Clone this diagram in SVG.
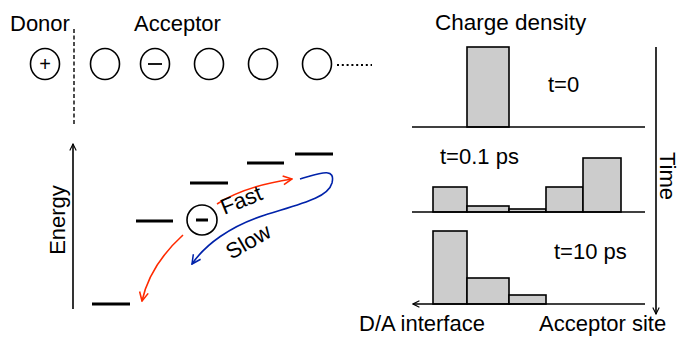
<svg xmlns="http://www.w3.org/2000/svg" width="681" height="339" viewBox="0 0 681 339">
<defs>
<style>
text{font-family:"Liberation Sans",Arial,sans-serif;font-size:22px;fill:#000}
.site{fill:none;stroke:#000;stroke-width:1.6}
.lvl{stroke:#000;stroke-width:3}
.bar{fill:#cccccc;stroke:#000;stroke-width:1.6}
.base{stroke:#000;stroke-width:1.6;fill:none}
</style>
<marker id="ah" viewBox="0 0 10 10" refX="9" refY="5" markerWidth="8" markerHeight="8" orient="auto" markerUnits="userSpaceOnUse"><path d="M1,1 L9,5 L1,9" fill="none" stroke="#000" stroke-width="1.4"/></marker>
<marker id="ahr" viewBox="0 0 10 10" refX="9" refY="5" markerWidth="11" markerHeight="11" orient="auto" markerUnits="userSpaceOnUse"><path d="M1,1 L9,5 L1,9" fill="none" stroke="#ff2a00" stroke-width="1.4"/></marker>
<marker id="ahb" viewBox="0 0 10 10" refX="9" refY="5" markerWidth="11" markerHeight="11" orient="auto" markerUnits="userSpaceOnUse"><path d="M1,1 L9,5 L1,9" fill="none" stroke="#0022aa" stroke-width="1.4"/></marker>
</defs>
<rect width="681" height="339" fill="#fff"/>

<g id="labels-top">
<text x="10" y="31">Donor</text>
<text x="134" y="31">Acceptor</text>
</g>
<line x1="74" y1="29" x2="74" y2="124" stroke="#000" stroke-width="1.4" stroke-dasharray="4,2.5"/>

<g id="site-donor"><ellipse class="site" cx="45" cy="64" rx="14.5" ry="15.5"/><text x="45" y="71" text-anchor="middle" style="font-size:20px">+</text></g>
<g id="site-1"><ellipse class="site" cx="105" cy="64" rx="14.5" ry="15.5"/></g>
<g id="site-2"><ellipse class="site" cx="155" cy="64" rx="14.5" ry="15.5"/><line x1="148" y1="64" x2="162" y2="64" stroke="#000" stroke-width="1.8"/></g>
<g id="site-3"><ellipse class="site" cx="209" cy="64" rx="14.5" ry="15.5"/></g>
<g id="site-4"><ellipse class="site" cx="263" cy="64" rx="14.5" ry="15.5"/></g>
<g id="site-5"><ellipse class="site" cx="317" cy="64" rx="14.5" ry="15.5"/></g>
<line x1="337" y1="65" x2="372" y2="65" stroke="#000" stroke-width="2.2" stroke-dasharray="2,2.8"/>

<g id="energy-axis">
<line x1="73" y1="309" x2="73" y2="144" stroke="#000" stroke-width="1.6" marker-end="url(#ah)"/>
<text transform="translate(65,220) rotate(-90)" text-anchor="middle">Energy</text>
</g>
<g id="levels">
<line class="lvl" x1="92" y1="304" x2="130" y2="304"/>
<line class="lvl" x1="136" y1="221" x2="173" y2="221"/>
<line class="lvl" x1="190" y1="183" x2="228" y2="183"/>
<line class="lvl" x1="247" y1="163" x2="284" y2="163"/>
<line class="lvl" x1="295" y1="154" x2="333" y2="154"/>
</g>
<g id="electron"><circle class="site" cx="202" cy="220" r="15"/><line x1="196" y1="220" x2="208" y2="220" stroke="#000" stroke-width="3"/></g>

<g id="connectors">
<path d="M217,204 Q245,186 292,179" fill="none" stroke="#ff2a00" stroke-width="1.6" marker-end="url(#ahr)"/>
<path d="M183,235 Q150,265 142,301" fill="none" stroke="#ff2a00" stroke-width="1.6" marker-end="url(#ahr)"/>
<path d="M300,179 C318,174 336,166 332,183 C328,198 300,204 265,215 C230,226 205,245 192,264" fill="none" stroke="#0022aa" stroke-width="1.6" marker-end="url(#ahb)"/>
</g>
<text transform="translate(244,207) rotate(-22)" text-anchor="middle">Fast</text>
<text transform="translate(252,248) rotate(-30)" text-anchor="middle">Slow</text>

<text x="435" y="30" style="font-size:22.5px">Charge density</text>

<g id="panel-t0">
<rect class="bar" x="467" y="47" width="42" height="80"/>
<line class="base" x1="412" y1="127" x2="645" y2="127"/>
<text x="548" y="92">t=0</text>
</g>
<g id="panel-t01">
<rect class="bar" x="433" y="187" width="34" height="25"/>
<rect class="bar" x="467" y="206" width="42" height="6"/>
<rect class="bar" x="509" y="209" width="37" height="3"/>
<rect class="bar" x="546" y="187" width="37" height="25"/>
<rect class="bar" x="583" y="158" width="38" height="54"/>
<line class="base" x1="412" y1="212" x2="645" y2="212"/>
<text x="440" y="164">t=0.1 ps</text>
</g>
<g id="panel-t10">
<rect class="bar" x="433" y="231" width="34" height="73"/>
<rect class="bar" x="467" y="278" width="42" height="26"/>
<rect class="bar" x="509" y="295" width="37" height="9"/>
<line class="base" x1="645" y1="304" x2="413" y2="304" marker-end="url(#ah)"/>
<text x="554" y="259">t=10 ps</text>
</g>
<g id="time-axis">
<line x1="656" y1="47" x2="656" y2="314" stroke="#000" stroke-width="1.6" marker-end="url(#ah)"/>
<text transform="translate(660,176) rotate(90)" text-anchor="middle">Time</text>
</g>
<text x="359" y="331">D/A interface</text>
<text x="539" y="331">Acceptor site</text>
</svg>
